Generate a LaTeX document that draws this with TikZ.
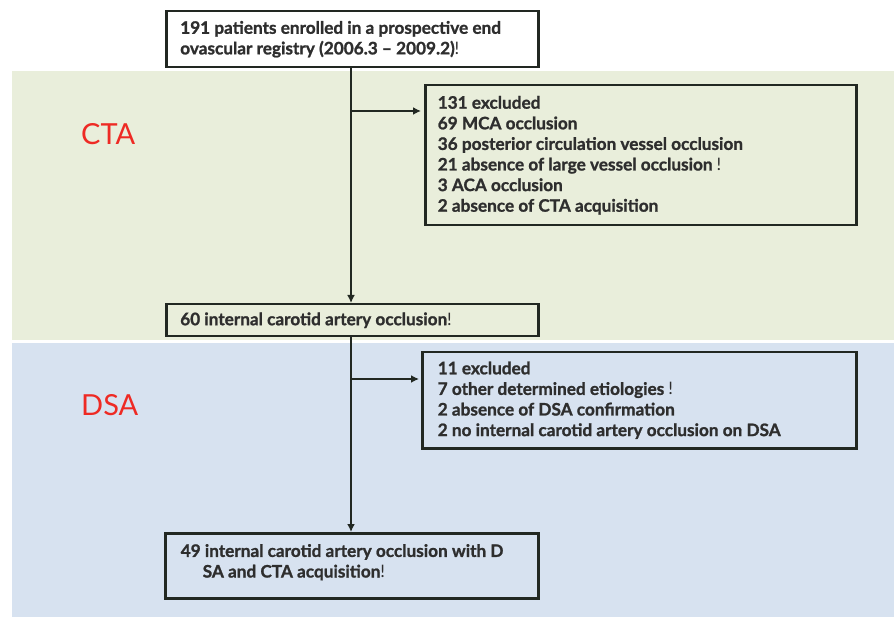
\documentclass[tikz,border=0pt]{standalone}
\usepackage{fontspec}
\setmainfont{Lato}[BoldFeatures={FakeBold=1.2}]
\usetikzlibrary{arrows.meta}
\definecolor{bandgreen}{HTML}{E9EEDB}
\definecolor{bandblue}{HTML}{D7E2F0}
\definecolor{linecol}{HTML}{222822}
\definecolor{txtcol}{HTML}{2E2E2E}
\definecolor{labred}{HTML}{EE2A24}
\tikzset{
  box/.style={draw=linecol, line width=2.5pt, anchor=north west, inner sep=0pt, align=left,
    font=\fontsize{17.2}{20.6}\selectfont\bfseries, text=txtcol},
  conn/.style={draw=linecol, line width=2.5pt, -{Latex[length=8pt,width=8pt]}},
  seclabel/.style={font=\fontsize{29}{30}\selectfont, text=labred, anchor=west, inner sep=0pt}
}
\begin{document}
\begin{tikzpicture}[x=1pt,y=-1pt]
\useasboundingbox (0,0) rectangle (894,617);
\fill[bandgreen] (12,71) rectangle (894,340);
\fill[bandblue] (12,343) rectangle (894,617);
\node[seclabel] (cta) at (81,134) {CTA};
\node[seclabel] (dsa) at (81,405) {DSA};
\node[box, fill=white, minimum width=372pt, minimum height=56pt] (top) at (165,10)
  {\hspace*{11pt}\parbox[c]{355pt}{191 patients enrolled in a prospective end\\ovascular registry (2006.3 -- 2009.2){\mdseries !}}};
\node[box, minimum width=431pt, minimum height=140pt] (ex1) at (424,84)
  {\hspace*{9pt}\parbox[c]{415pt}{131 excluded\\69 MCA occlusion\\36 posterior circulation vessel occlusion\\21 absence of large vessel occlusion {\mdseries !}\\3 ACA occlusion\\2 absence of CTA acquisition}};
\node[box, minimum width=372pt, minimum height=32pt] (ica) at (165,303)
  {\hspace*{11pt}\parbox[c]{355pt}{60 internal carotid artery occlusion{\mdseries !}}};
\node[box, minimum width=434pt, minimum height=96pt] (ex2) at (421,351)
  {\hspace*{12pt}\parbox[c]{415pt}{11 excluded\\7 other determined etiologies {\mdseries !}\\2 absence of DSA confirmation\\2 no internal carotid artery occlusion on DSA}};
\node[box, minimum width=373pt, minimum height=65pt] (fin) at (164,532)
  {\hspace*{13pt}\parbox[c]{355pt}{49 internal carotid artery occlusion with D\\\hspace*{22pt}SA and CTA acquisition{\mdseries !}\par\vspace{7pt}}};
\coordinate (b1) at (351,111);
\coordinate (b2) at (351,379);
\draw[conn] (top.south -| 351,0) -- (ica.north -| 351,0);
\draw[conn] (ica.south -| 351,0) -- (fin.north -| 351,0);
\draw[conn, shorten >=3pt] (b1) -- (b1 -| ex1.west);
\draw[conn, shorten >=2pt] (b2) -- (b2 -| ex2.west);
\end{tikzpicture}
\end{document}
